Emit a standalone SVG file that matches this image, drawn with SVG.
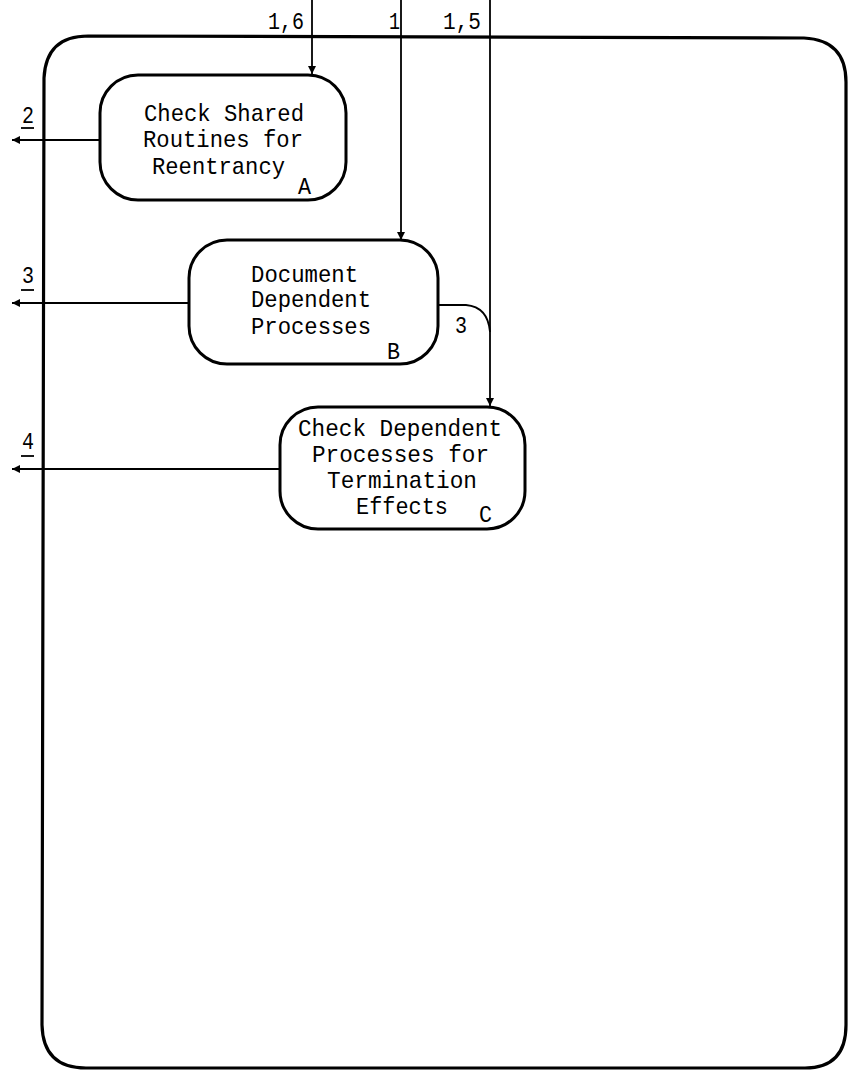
<svg xmlns="http://www.w3.org/2000/svg" width="848" height="1077" viewBox="0 0 848 1077">
<defs>
<style>
.frame{fill:none;stroke:#000;stroke-width:3.2}
.box{fill:#fff;stroke:#000;stroke-width:3}
.con{fill:none;stroke:#000;stroke-width:1.8}
.t{font-family:"Liberation Mono","DejaVu Sans Mono",monospace;font-size:24px;fill:#000}
</style>
<marker id="ah" viewBox="0 0 10 10" refX="10" refY="5" markerWidth="9" markerHeight="8" markerUnits="userSpaceOnUse" orient="auto">
<path d="M0,0 L10,5 L0,10 z" fill="#000"/>
</marker>
</defs>
<rect width="848" height="1077" fill="#fff"/>
<path class="frame" d="M88,36 L804,38 Q846,40 846,82 L846,1025 Q846,1068 805,1068 L86,1068 Q43,1068 42,1025 L44,78 Q46,36 88,36 Z"/>
<g id="connectors">
<path class="con" d="M312,0 L312,74" marker-end="url(#ah)"/>
<path class="con" d="M401,0 L401,240" marker-end="url(#ah)"/>
<path class="con" d="M490,0 L490,406" marker-end="url(#ah)"/>
<path class="con" d="M438,305 L466,305 Q488,307 490,332"/>
<path class="con" d="M100,140 L12,140" marker-end="url(#ah)"/>
<path class="con" d="M189,303 L12,303" marker-end="url(#ah)"/>
<path class="con" d="M280,469 L12,469" marker-end="url(#ah)"/>
<text class="t" x="268" y="29" textLength="36" lengthAdjust="spacingAndGlyphs">1,6</text>
<text class="t" x="389" y="29" textLength="11" lengthAdjust="spacingAndGlyphs">1</text>
<text class="t" x="443" y="29" textLength="38" lengthAdjust="spacingAndGlyphs">1,5</text>
<text class="t" x="455" y="333" textLength="12" lengthAdjust="spacingAndGlyphs">3</text>
<text class="t" x="22" y="123" textLength="12" lengthAdjust="spacingAndGlyphs">2</text>
<line class="con" x1="21" y1="128" x2="34" y2="128"/>
<text class="t" x="22" y="283" textLength="12" lengthAdjust="spacingAndGlyphs">3</text>
<line class="con" x1="21" y1="290" x2="34" y2="290"/>
<text class="t" x="22" y="449" textLength="12" lengthAdjust="spacingAndGlyphs">4</text>
<line class="con" x1="21" y1="456" x2="34" y2="456"/>
</g>
<g id="nodeA">
<rect class="box" x="100" y="75" width="246" height="125" rx="38" ry="38"/>
<text class="t" x="144" y="121" textLength="160" lengthAdjust="spacingAndGlyphs">Check Shared</text>
<text class="t" x="143" y="147" textLength="160" lengthAdjust="spacingAndGlyphs">Routines for</text>
<text class="t" x="152" y="174" textLength="133" lengthAdjust="spacingAndGlyphs">Reentrancy</text>
<text class="t" x="298" y="194" textLength="13" lengthAdjust="spacingAndGlyphs">A</text>
</g>
<g id="nodeB">
<rect class="box" x="189" y="240" width="249" height="124" rx="38" ry="38"/>
<text class="t" x="251" y="282" textLength="107" lengthAdjust="spacingAndGlyphs">Document</text>
<text class="t" x="251" y="307" textLength="120" lengthAdjust="spacingAndGlyphs">Dependent</text>
<text class="t" x="251" y="334" textLength="120" lengthAdjust="spacingAndGlyphs">Processes</text>
<text class="t" x="387" y="359" textLength="13" lengthAdjust="spacingAndGlyphs">B</text>
</g>
<g id="nodeC">
<rect class="box" x="280" y="407" width="245" height="122" rx="38" ry="38"/>
<text class="t" x="298" y="436" textLength="204" lengthAdjust="spacingAndGlyphs">Check Dependent</text>
<text class="t" x="312" y="462" textLength="177" lengthAdjust="spacingAndGlyphs">Processes for</text>
<text class="t" x="327" y="488" textLength="150" lengthAdjust="spacingAndGlyphs">Termination</text>
<text class="t" x="356" y="514" textLength="92" lengthAdjust="spacingAndGlyphs">Effects</text>
<text class="t" x="479" y="522" textLength="13" lengthAdjust="spacingAndGlyphs">C</text>
</g>
</svg>
